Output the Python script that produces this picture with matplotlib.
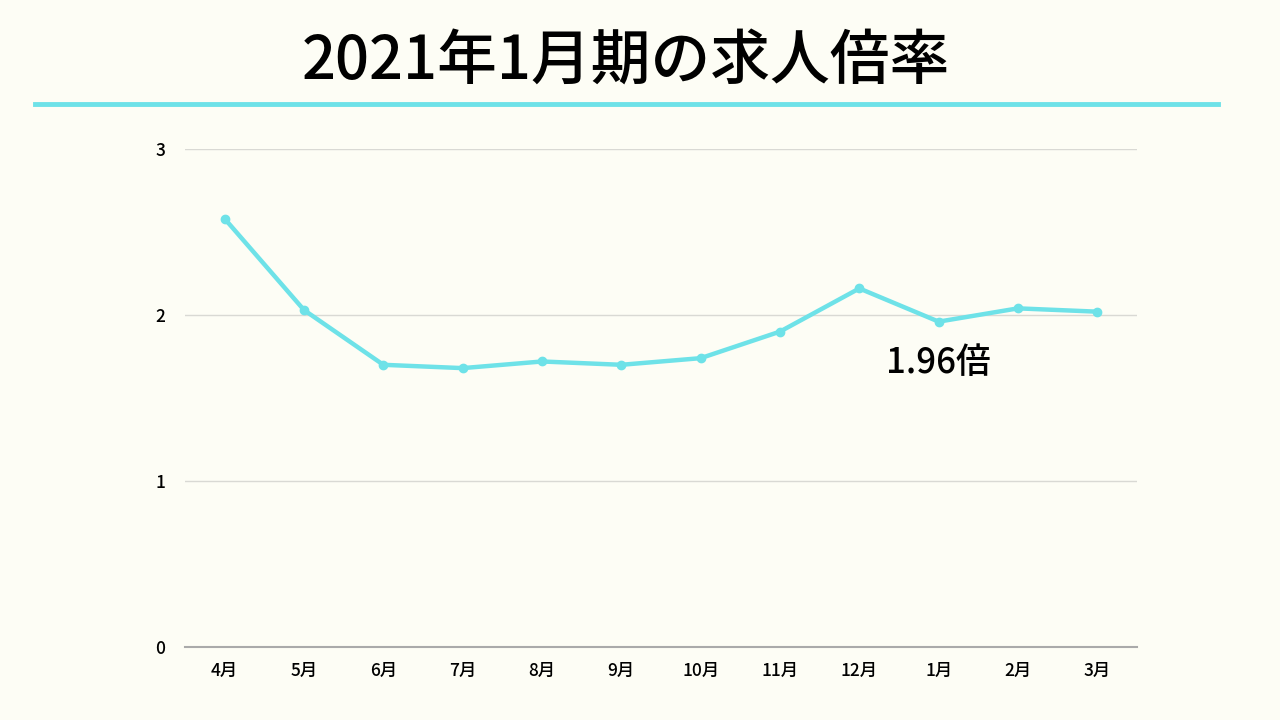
import matplotlib
matplotlib.use("Agg")
import matplotlib.pyplot as plt
from matplotlib.lines import Line2D

plt.rcParams['font.family'] = ['Noto Sans CJK JP', 'DejaVu Sans']

# データ
months = ["4月", "5月", "6月", "7月", "8月", "9月", "10月", "11月", "12月", "1月", "2月", "3月"]
ratios = [2.58, 2.03, 1.70, 1.68, 1.72, 1.70, 1.74, 1.90, 2.16, 1.96, 2.04, 2.02]
yticks = [0, 1, 2, 3]

bg = "#fdfdf5"
line_color = "#6ee2e8"

fig = plt.figure(figsize=(12.8, 7.2), dpi=100, facecolor=bg)
ax = fig.add_axes([185/1280, 73/720, (1137-185)/1280, (647-149)/720])
ax.set_facecolor(bg)

x = list(range(len(months)))
ax.plot(x, ratios, color=line_color, lw=3.2, marker="o", ms=6, zorder=3)

ax.set_xlim(-0.5, len(months) - 0.5)
ax.set_ylim(0, 3)
ax.set_xticks(x)
ax.set_xticklabels(months, fontsize=12.5, fontweight="medium")
ax.set_yticks(yticks)
ax.set_yticklabels([str(v) for v in yticks], fontsize=12.5, fontweight="medium")
ax.tick_params(length=0, pad=11)
ax.tick_params(axis="y", pad=14)
ax.grid(axis="y", color="#d9d9d4", lw=1)
ax.set_axisbelow(True)
for s in ["top", "right", "left"]:
    ax.spines[s].set_visible(False)
ax.spines["bottom"].set_color("#aaaaaa")
ax.spines["bottom"].set_linewidth(1.5)

# 注記
ax.annotate("1.96倍", xy=(x[9], ratios[9]), xytext=(0, -30), textcoords="offset points",
            ha="center", va="center", fontsize=25, fontweight="medium")

# タイトルと下線
fig.text(626/1280, 1 - 62/720, "2021年1月期の求人倍率", ha="center", va="center",
         fontsize=43, fontweight="medium")
fig.add_artist(Line2D([35/1280, 1218/1280], [1 - 104/720, 1 - 104/720],
                      color=line_color, lw=3.5, transform=fig.transFigure))

fig.savefig("out.png", dpi=100, facecolor=bg)
